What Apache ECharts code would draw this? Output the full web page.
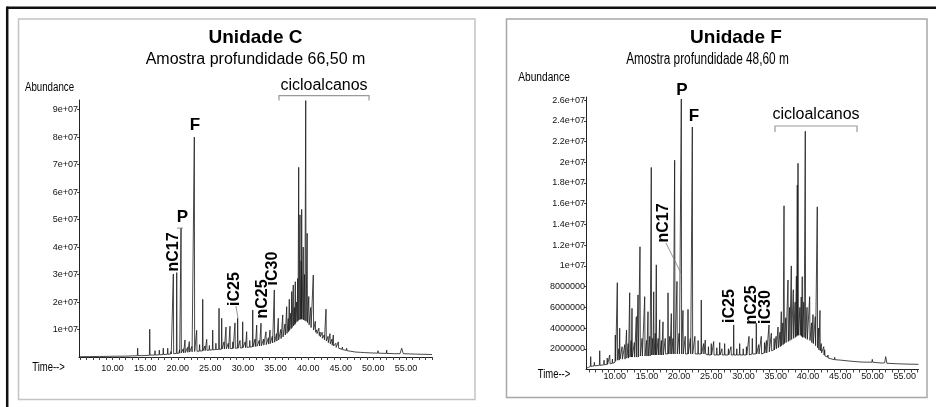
<!DOCTYPE html>
<html><head><meta charset="utf-8">
<script src="https://cdn.jsdelivr.net/npm/echarts@6.0.0/dist/echarts.min.js"></script>
<style>html,body{margin:0;padding:0;background:#fff}#c{width:936px;height:407px}</style>
</head><body><div id="c"></div>
<script>
// ---- DATA (time in minutes, abundance in millions of counts) ----
const xTickLabels = [10, 15, 20, 25, 30, 35, 40, 45, 50, 55];
const yTicksC = [10, 20, 30, 40, 50, 60, 70, 80, 90];
const yTicksF = [2, 4, 6, 8, 10, 12, 14, 16, 18, 20, 22, 24, 26];

const traceC = [
[4.85,0.1],[6.5,0.15],[8.0,0.2],[9.5,0.25],[11.0,0.3],[11.9,0.3],[11.95,0.6],[12.0,0.3],[13.0,0.4],
[13.8,0.45],[13.85,3.2],[13.9,0.5],[14.5,0.5],[14.55,0.9],[14.6,0.5],
[15.65,0.6],[15.7,10.1],[15.75,0.7],[16.46,0.7],[16.51,2.3],[16.56,0.7],
[17.12,0.8],[17.17,2.5],[17.22,0.8],[17.73,0.9],[17.78,3.2],[17.83,0.9],
[18.41,1.0],[18.46,3.2],[18.51,1.0],[18.9,1.1],[18.95,2.0],[19.0,1.1],
[19.27,1.2],[19.32,30.2],[19.37,1.2],[19.79,1.3],[19.84,30.7],[19.89,1.3],
[20.2,1.4],[20.25,2.6],[20.3,1.4],[20.45,1.4],[20.50,46.9],[20.55,1.5],
[20.8,1.5],[20.85,3.0],[20.9,1.5],[21.06,1.6],[21.11,6.2],[21.16,1.6],
[21.45,1.7],[21.5,3.5],[21.55,1.7],[21.72,1.8],[21.77,5.6],[21.82,1.8],
[22.1,1.9],[22.15,3.8],[22.2,1.9],[22.49,2.0],[22.54,80.0],[22.59,2.0],
[22.85,2.0],[22.90,9.7],[22.95,2.1],[23.3,2.1],[23.35,4.5],[23.4,2.2],
[23.78,2.2],[23.83,21.0],[23.88,2.3],[24.1,2.3],[24.15,4.0],[24.2,2.3],
[24.39,2.4],[24.44,6.4],[24.49,2.4],[24.8,2.5],[24.85,4.2],[24.9,2.5],
[25.31,2.6],[25.36,9.8],[25.41,2.6],[25.8,2.7],[25.85,5.0],[25.9,2.7],
[26.28,2.8],[26.33,17.7],[26.38,2.8],[26.69,2.8],[26.74,14.1],[26.79,2.9],
[27.05,2.9],[27.1,5.5],[27.15,2.9],[27.35,2.9],[27.40,10.9],[27.45,3.0],
[27.7,3.0],[27.75,5.0],[27.8,3.0],[27.96,3.0],[28.01,11.2],[28.06,3.1],
[28.4,3.1],[28.45,5.5],[28.5,3.1],[28.73,3.1],[28.78,12.4],[28.83,3.2],
[29.14,3.2],[29.19,14.1],[29.24,3.2],[29.5,3.3],[29.55,6.0],[29.6,3.3],
[29.91,3.3],[29.96,12.8],[30.01,3.4],[30.3,3.4],[30.35,5.5],[30.4,3.4],
[30.52,3.5],[30.57,9.2],[30.62,3.5],[31.0,3.6],[31.05,6.0],[31.1,3.6],
[31.45,3.7],[31.50,17.1],[31.55,3.7],[31.8,3.8],[31.85,6.5],[31.9,3.8],
[32.06,3.9],[32.11,11.6],[32.16,3.9],[32.45,4.0],[32.5,6.0],[32.55,4.0],
[32.72,4.1],[32.77,12.3],[32.82,4.1],[33.1,4.2],[33.15,6.5],[33.2,4.3],
[33.48,4.4],[33.53,9.2],[33.58,4.5],[33.85,4.6],[33.9,7.0],[33.95,4.7],
[34.10,4.8],[34.15,9.8],[34.2,4.9],[34.45,5.0],[34.5,7.5],[34.55,5.1],
[34.76,5.2],[34.81,24.4],[34.86,5.4],[35.1,5.6],[35.15,8.5],[35.2,5.8],
[35.37,6.0],[35.42,14.1],[35.47,6.2],[35.75,6.5],[35.8,10.0],[35.85,6.7],
[36.05,7.0],[36.10,15.3],[36.15,7.3],[36.4,7.7],[36.45,12.0],[36.5,8.0],
[36.66,8.3],[36.71,18.3],[36.76,8.6],[36.9,8.9],[36.95,14.0],[37.0,9.2],
[37.06,9.4],[37.11,21.0],[37.16,9.7],[37.3,10.0],[37.35,16.0],[37.4,10.3],
[37.43,10.4],[37.48,23.8],[37.53,10.7],[37.67,11.0],[37.72,26.2],[37.77,11.3],
[37.85,11.5],[37.9,18.0],[37.95,11.8],[37.98,11.9],[38.03,27.4],[38.08,12.2],
[38.2,12.5],[38.25,20.0],[38.3,12.8],[38.35,13.0],[38.40,28.6],[38.45,13.2],
[38.5,13.3],[38.55,69.0],[38.6,13.5],[38.7,13.6],[38.75,51.7],[38.8,13.7],
[38.88,13.8],[38.93,35.0],[38.97,13.8],[39.01,53.7],[39.06,13.7],
[39.2,13.6],[39.25,40.0],[39.3,13.5],[39.4,13.4],[39.45,30.0],[39.5,13.3],
[39.58,13.2],[39.63,93.3],[39.68,13.0],[39.8,12.8],[39.85,45.0],[39.9,12.5],
[40.05,12.0],[40.1,22.0],[40.15,11.7],[40.35,11.0],[40.4,18.0],[40.45,10.7],
[40.74,10.0],[40.79,29.8],[40.84,9.8],[41.05,9.2],[41.1,13.0],[41.15,9.0],
[41.26,8.8],[41.31,9.9],[41.36,8.5],[41.6,8.0],[41.65,10.5],[41.7,7.8],
[41.77,7.6],[41.82,9.1],[41.87,7.4],[42.1,7.0],[42.15,9.0],[42.2,6.8],
[42.4,6.5],[42.45,8.0],[42.5,6.3],[42.69,6.0],[42.74,17.4],[42.79,5.8],
[43.0,5.4],[43.05,7.5],[43.1,5.2],[43.30,5.0],[43.35,8.5],[43.40,4.8],
[43.6,4.5],[43.65,6.5],[43.7,4.3],[43.81,4.2],[43.86,8.0],[43.91,4.0],
[44.2,3.7],[44.25,5.0],[44.3,3.5],[44.58,3.3],[44.63,5.5],[44.68,3.2],
[45.2,2.8],[45.25,3.6],[45.3,2.7],[45.86,2.4],[45.91,3.2],[45.96,2.3],
[46.5,2.1],[46.55,2.6],[46.6,2.0],[47.29,1.8],[47.34,2.5],[47.39,1.8],
[48.0,1.7],[48.05,2.1],[48.1,1.7],[48.67,1.6],[48.72,2.3],[48.77,1.6],
[49.5,1.5],[49.55,1.9],[49.6,1.5],[50.67,1.4],[50.72,2.3],[50.77,1.4],
[52.0,1.3],[52.05,2.5],[52.1,1.3],[53.27,1.2],[53.32,1.9],[53.37,1.2],
[54.1,1.2],[54.35,3.2],[54.6,1.2],[56.5,1.05],[59.0,0.9]
];

const traceF = [
[5.55,0.1],[5.9,0.2],[6.23,0.3],[6.28,1.24],[6.33,0.3],[6.8,0.35],[6.85,0.7],[6.9,0.35],
[7.63,0.4],[7.68,1.81],[7.73,0.4],[8.3,0.45],[8.35,0.9],[8.4,0.45],
[8.8,0.5],[8.85,1.1],[8.9,0.5],[9.18,0.55],[9.23,1.4],[9.28,0.55],
[9.6,0.6],[9.65,1.0],[9.7,0.6],[10.05,0.7],[10.10,3.33],[10.15,0.8],
[10.36,0.8],[10.41,8.38],[10.46,0.9],[10.6,0.9],[10.65,2.0],[10.7,0.9],
[10.73,0.9],[10.78,3.98],[10.83,1.0],[11.1,1.0],[11.15,2.2],[11.2,1.0],
[11.51,1.0],[11.56,2.4],[11.61,1.0],[11.79,1.1],[11.84,3.8],[11.89,1.1],
[12.05,1.1],[12.1,2.5],[12.15,1.1],[12.28,1.1],[12.33,7.41],[12.38,1.2],
[12.5,1.2],[12.55,2.8],[12.6,1.2],[12.64,1.2],[12.69,5.9],[12.74,1.2],
[13.0,1.2],[13.05,2.6],[13.1,1.2],[13.31,1.2],[13.36,5.1],[13.41,1.2],
[13.57,1.2],[13.62,7.2],[13.67,1.2],[13.88,1.2],[13.93,11.85],[13.98,1.3],
[14.2,1.3],[14.25,3.0],[14.3,1.3],[14.61,1.3],[14.66,7.03],[14.71,1.3],
[14.9,1.3],[14.95,2.8],[15.0,1.3],[15.12,1.3],[15.17,5.58],[15.22,1.3],
[15.4,1.3],[15.45,3.2],[15.5,1.3],[15.63,1.3],[15.68,19.5],[15.73,1.4],
[15.85,1.4],[15.9,3.0],[15.95,1.4],[16.01,1.4],[16.06,7.5],[16.11,1.4],
[16.25,1.4],[16.3,3.5],[16.35,1.4],[16.41,1.4],[16.46,10.1],[16.51,1.4],
[16.7,1.4],[16.75,3.0],[16.8,1.4],[16.94,1.4],[16.99,4.8],[17.04,1.4],
[17.2,1.4],[17.25,2.8],[17.3,1.4],[17.45,1.4],[17.50,4.6],[17.55,1.4],
[17.8,1.5],[17.85,3.0],[17.9,1.5],[18.23,1.5],[18.28,7.4],[18.33,1.5],
[18.5,1.5],[18.55,3.2],[18.6,1.5],[18.74,1.5],[18.79,5.4],[18.84,1.5],
[19.0,1.5],[19.05,3.0],[19.1,1.5],[19.26,1.5],[19.31,20.2],[19.36,1.5],
[19.62,1.5],[19.67,8.5],[19.72,1.5],[19.95,1.5],[20.0,3.5],[20.05,1.5],
[20.29,1.5],[20.34,26.1],[20.39,1.5],[20.55,1.5],[20.60,5.7],[20.65,1.5],
[20.9,1.5],[20.95,3.2],[21.0,1.5],[21.33,1.5],[21.38,5.8],[21.43,1.5],
[21.7,1.5],[21.75,3.0],[21.8,1.5],[22.00,1.5],[22.05,23.4],[22.10,1.5],
[22.4,1.5],[22.45,3.2],[22.5,1.5],[22.9,1.5],[22.95,2.8],[23.0,1.5],
[23.39,1.5],[23.44,6.7],[23.49,1.5],[23.75,1.5],[23.8,2.5],[23.85,1.5],
[24.01,1.5],[24.06,2.85],[24.11,1.5],[24.5,1.4],[24.55,2.2],[24.6,1.4],
[24.94,1.4],[24.99,2.5],[25.04,1.4],[25.32,1.4],[25.37,2.7],[25.42,1.4],
[25.8,1.4],[25.85,2.1],[25.9,1.4],[26.25,1.4],[26.30,2.6],[26.35,1.4],
[26.6,1.4],[26.65,2.0],[26.7,1.4],[27.02,1.4],[27.07,2.5],[27.12,1.4],
[27.6,1.4],[27.65,2.0],[27.7,1.4],[28.0,1.4],[28.05,2.2],[28.1,1.4],
[28.42,1.4],[28.47,4.3],[28.52,1.4],[28.9,1.4],[28.95,2.0],[29.0,1.4],
[29.35,1.4],[29.40,2.5],[29.45,1.4],[29.9,1.4],[29.95,2.0],[30.0,1.4],
[30.4,1.4],[30.45,2.2],[30.5,1.4],[30.80,1.4],[30.85,3.2],[30.90,1.4],
[31.31,1.5],[31.36,3.0],[31.41,1.5],[31.93,1.5],[31.98,4.46],[32.03,1.5],
[32.3,1.5],[32.35,2.4],[32.4,1.5],[32.7,1.5],[32.75,3.2],[32.8,1.5],
[33.2,1.6],[33.25,2.6],[33.3,1.6],[33.5,1.6],[33.55,2.8],[33.6,1.6],
[33.90,1.6],[33.95,4.3],[34.0,1.7],[34.26,1.7],[34.31,3.5],[34.36,1.8],
[34.7,1.9],[34.75,3.0],[34.8,1.9],[35.0,2.0],[35.05,3.2],[35.1,2.0],
[35.30,2.0],[35.35,4.1],[35.40,2.1],[35.6,2.1],[35.65,3.6],[35.7,2.2],
[35.81,2.2],[35.86,5.58],[35.91,2.3],[36.05,2.3],[36.1,4.5],[36.15,2.4],
[36.23,2.4],[36.28,15.8],[36.33,2.5],[36.5,2.5],[36.55,5.0],[36.6,2.6],
[36.85,2.7],[36.90,8.64],[36.95,2.7],[37.1,2.8],[37.15,6.0],[37.2,2.8],
[37.36,2.9],[37.41,10.0],[37.46,2.9],[37.67,3.0],[37.72,7.7],[37.77,3.0],
[37.95,3.1],[38.0,6.5],[38.05,3.1],[38.15,3.2],[38.2,9.0],[38.25,3.2],
[38.29,3.2],[38.34,17.8],[38.39,3.3],[38.40,3.3],[38.45,19.9],[38.50,3.3],
[38.7,3.3],[38.75,6.0],[38.8,3.3],[38.9,3.2],[38.95,7.0],[39.0,3.2],
[39.06,3.2],[39.11,8.96],[39.16,3.1],[39.3,3.1],[39.35,6.5],[39.4,3.1],
[39.53,3.0],[39.58,23.0],[39.63,3.0],[39.8,2.9],[39.85,6.0],[39.9,2.9],
[40.21,2.8],[40.26,7.03],[40.31,2.8],[40.5,2.7],[40.55,4.5],[40.6,2.6],
[40.73,2.6],[40.78,5.3],[40.83,2.5],[41.08,2.4],[41.13,5.1],[41.18,2.3],
[41.39,2.2],[41.44,15.7],[41.49,2.1],[41.6,2.0],[41.65,4.0],[41.7,1.9],
[41.81,1.9],[41.86,5.7],[41.91,1.8],[42.01,1.7],[42.06,2.5],[42.11,1.6],
[42.4,1.5],[42.45,2.2],[42.5,1.4],[42.54,1.4],[42.59,1.9],[42.64,1.3],
[43.05,1.2],[43.10,1.4],[43.15,1.1],[44.09,0.95],[44.14,1.18],[44.19,0.95],
[45.12,0.9],[45.17,1.08],[45.22,0.88],[46.67,0.8],[46.72,0.92],[46.77,0.78],
[48.22,0.72],[48.27,0.85],[48.32,0.72],[49.9,0.7],[49.98,0.98],[50.06,0.7],
[51.5,0.62],[51.9,0.65],[52.06,1.24],[52.25,0.6],[54,0.55],[55.5,0.52],[57.15,0.5]
];

// Annotations, anchored in data units [time, abundance]
const labelsC = [
  {text:'F', at:[22.64,84.4], rot:false},
  {text:'P', at:[20.73,50.7], rot:false},
  {text:'nC17', at:[19.42,38.2], rot:true},
  {text:'iC25', at:[28.78,24.7], rot:true},
  {text:'nC25', at:[33.07,21.1], rot:true},
  {text:'iC30', at:[34.53,32.2], rot:true}
];
const leadersC = [ [[19.88,46.9],[20.8,46.9]], [[28.93,18.5],[29.24,14.2]] ];
const bracketC = {text:'cicloalcanos', from:35.53, to:49.34, y:95.1, tick:93.3, textY:98.9};

const labelsF = [
  {text:'P', at:[20.45,26.98], rot:false},
  {text:'F', at:[22.31,24.47], rot:false},
  {text:'nC17', at:[17.65,14.14], rot:true},
  {text:'iC25', at:[27.90,6.13], rot:true},
  {text:'nC25', at:[31.31,6.23], rot:true},
  {text:'iC30', at:[33.40,6.03], rot:true}
];
const leadersF = [ [[17.96,12.21],[20.29,9.31]] ];
const bracketF = {text:'cicloalcanos', from:34.88, to:47.61, y:23.5, tick:22.92, textY:24.61};

// ---- CHART ----
const SANS = "'Liberation Sans',Arial,Helvetica,sans-serif";
const minuteTicks = [];
for (let m = 5; m <= 59; m++) minuteTicks.push(m);

function fmtY(v) {
  const n = Math.round(v * 1e6);
  if (n >= 1e7) return n.toExponential().replace(/e\+(\d)$/, 'e+0$1');
  return String(n);
}

function xAxisCfg(grid, min, max, margin) {
  return {
    type:'value', gridIndex:grid, min:min, max:max,
    axisLine:{show:true, onZero:false, lineStyle:{color:'#222', width:1}},
    axisTick:{show:true, length:3, customValues:minuteTicks.filter(m=>m>=min&&m<=max), lineStyle:{color:'#444'}},
    axisLabel:{customValues:xTickLabels, formatter:v=>v.toFixed(2), fontSize:9, fontFamily:SANS, color:'#111', margin:margin},
    splitLine:{show:false}
  };
}
function yAxisCfg(grid, max, ticks) {
  return {
    type:'value', gridIndex:grid, min:0, max:max,
    axisLine:{show:true, lineStyle:{color:'#222', width:1}},
    axisTick:{show:true, length:2, customValues:ticks, lineStyle:{color:'#444'}},
    axisLabel:{customValues:ticks, formatter:fmtY, fontSize:9, fontFamily:SANS, color:'#111', margin:1},
    splitLine:{show:false}
  };
}

const chart = echarts.init(document.getElementById('c'), null, {renderer:'canvas'});
chart.setOption({
  animation:false,
  backgroundColor:'#fff',
  grid:[
    {left:79, top:100, width:353, height:257},
    {left:586, top:97, width:332.5, height:272.5}
  ],
  xAxis:[ xAxisCfg(0, 4.85, 59.0, 7), xAxisCfg(1, 5.55, 57.15, 3) ],
  yAxis:[ yAxisCfg(0, 93.5, yTicksC), yAxisCfg(1, 26.3, yTicksF) ],
  series:[
    {type:'line', xAxisIndex:0, yAxisIndex:0, data:traceC, showSymbol:false, sampling:null,
     lineStyle:{color:'#1a1a1a', width:0.8}, clip:false},
    {type:'line', xAxisIndex:1, yAxisIndex:1, data:traceF, showSymbol:false, sampling:null,
     lineStyle:{color:'#1a1a1a', width:0.8}, clip:false}
  ]
});

function px(grid, p) { return chart.convertToPixel({gridIndex:grid}, p); }

const g = [];
// outer frame (top & left black strokes)
g.push({type:'line', shape:{x1:7, y1:7.8, x2:936, y2:7.8}, style:{stroke:'#111', lineWidth:2.5}, z:10});
g.push({type:'line', shape:{x1:7.2, y1:6.5, x2:7.2, y2:407}, style:{stroke:'#111', lineWidth:2.5}, z:10});
// panel boxes
g.push({type:'rect', shape:{x:18.5, y:19, width:456.5, height:380.5}, style:{fill:null, stroke:'#c4c4c4', lineWidth:1.5}, z:1});
g.push({type:'rect', shape:{x:506.5, y:19, width:420.5, height:378.5}, style:{fill:null, stroke:'#a8a8a8', lineWidth:1.5}, z:1});

function addText(x, y, text, size, weight, family, extra) {
  g.push(Object.assign({type:'text', x:x, y:y, z:20,
    style:{text:text, fontSize:size, fontWeight:weight, fontFamily:family, fill:'#000',
           textAlign:'center', textVerticalAlign:'middle'}}, extra||{}));
}
// titles
addText(255.5, 38, 'Unidade C', 19, 'bold', SANS);
addText(255.5, 60, 'Amostra profundidade 66,50 m', 16, 'normal', SANS);
addText(736, 38, 'Unidade F', 19, 'bold', SANS);
addText(707.5, 60, 'Amostra profundidade 48,60 m', 16, 'normal', SANS, {scaleX:0.74});
// axis names (condensed look)
addText(49.5, 88, 'Abundance', 12, 'normal', SANS, {scaleX:0.81});
addText(48.5, 368, 'Time-->', 12, 'normal', SANS, {scaleX:0.79});
addText(544, 78, 'Abundance', 12, 'normal', SANS, {scaleX:0.85});
addText(554, 375, 'Time-->', 12, 'normal', SANS, {scaleX:0.79});

function annotate(grid, labels, leaders, br) {
  labels.forEach(l => {
    const p = px(grid, l.at);
    if (l.rot) addText(p[0], p[1], l.text, 16, 'bold', SANS, {rotation:Math.PI/2});
    else addText(p[0], p[1], l.text, 17, 'bold', SANS);
  });
  leaders.forEach(seg => {
    const a = px(grid, seg[0]), b = px(grid, seg[1]);
    g.push({type:'line', shape:{x1:a[0], y1:a[1], x2:b[0], y2:b[1]}, style:{stroke:'#777', lineWidth:0.8}, z:15});
  });
  const l = px(grid, [br.from, br.y]), r = px(grid, [br.to, br.y]);
  const lt = px(grid, [br.from, br.tick]), rt = px(grid, [br.to, br.tick]);
  g.push({type:'polyline', shape:{points:[lt, l, r, rt]}, style:{stroke:'#999', lineWidth:1.2, fill:null}, z:15});
  const t = px(grid, [(br.from+br.to)/2, br.textY]);
  addText(t[0], t[1], br.text, 16, 'normal', SANS);
}
annotate(0, labelsC, leadersC, bracketC);
annotate(1, labelsF, leadersF, bracketF);

chart.setOption({graphic:g});
</script>
</body></html>
